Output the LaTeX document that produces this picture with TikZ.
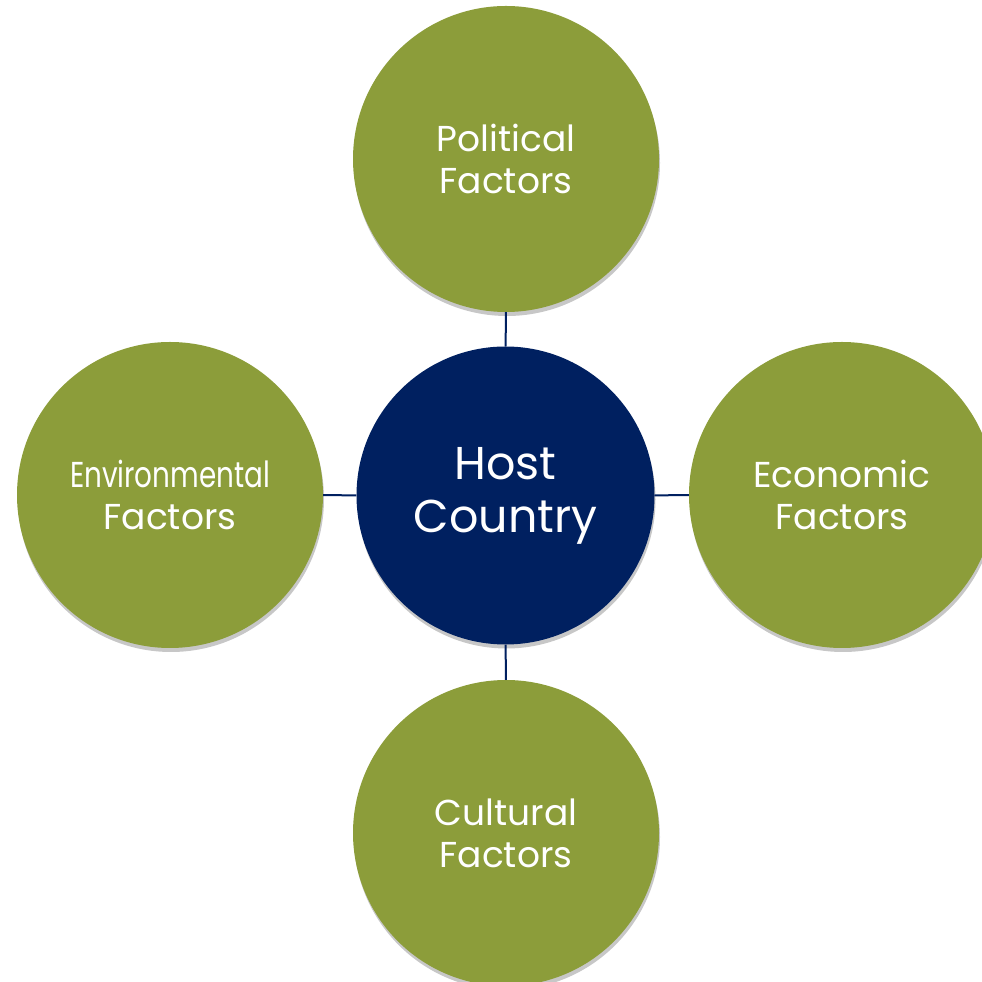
\documentclass[tikz,border=0pt]{standalone}
\usepackage{fontspec}
\setmainfont{Poppins}
\definecolor{main}{RGB}{0,32,96}
\definecolor{second}{RGB}{140,157,58}
\usepackage{tikz}
\usetikzlibrary{
	positioning,
	shadows
}
\tikzset{
  % link
	cstlink/.style     ={draw=main, line width=2pt},
  % shadow
	cstshadow/.style   ={drop shadow={shadow xshift=1pt, shadow yshift=-4pt, opacity=.22, fill=black}},
  % node
	cstfactor/.style   ={circle, fill=second, text=white, minimum size=306pt, inner sep=0pt, align=center, font=\fontsize{36}{42}\selectfont, cstshadow},
	csthost/.style     ={circle, fill=main, text=white, minimum size=298pt, inner sep=0pt, align=center, font=\fontsize{46}{53}\selectfont, cstshadow}
}

\begin{document}
\begin{tikzpicture}[x=1pt,y=1pt]
	\useasboundingbox (0,0) rectangle (982,982);
	\clip (0,0) rectangle (982,982);
	\node[csthost] (host) at (505.5,486.5) {Host\\Country};
	\node[cstfactor] (pol) at (506,823) {Political\\Factors};
	\node[cstfactor] (env) at (170,487) {\resizebox{200pt}{\height}{Environmental}\\Factors};
	\node[cstfactor] (eco) at (842,487) {Economic\\Factors};
	\node[cstfactor] (cul) at (506,149) {Cultural\\Factors};
	\draw[cstlink] (host) -- (pol);
	\draw[cstlink] (host) -- (env);
	\draw[cstlink] (host) -- (eco);
	\draw[cstlink] (host) -- (cul);
\end{tikzpicture}
\end{document}
